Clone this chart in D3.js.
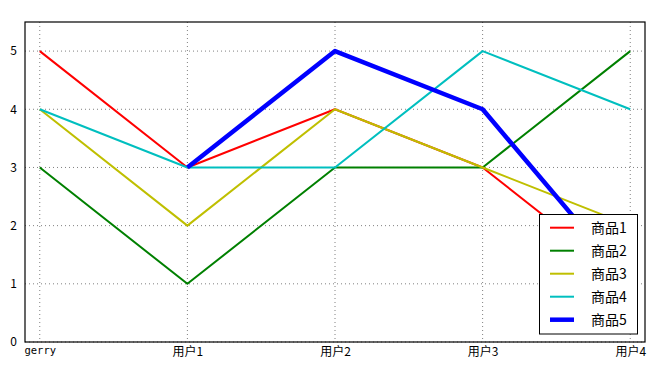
<!DOCTYPE html>
<html><head><meta charset="utf-8">
<script src="https://cdn.jsdelivr.net/npm/d3@7"></script>
<style>body{margin:0;background:#fff}svg{display:block}</style>
</head><body>
<svg id="c" width="667" height="370"></svg>
<script>
const categories = ["gerry","用户1","用户2","用户3","用户4"];
const seriesNames = ["商品1","商品2","商品3","商品4","商品5"];
const s1 = [5,3,4,3,1];
const s2 = [3,1,3,3,5];
const s3 = [4,2,4,3,2];
const s4 = [4,3,3,5,4];
const s5 = [null,3,5,4,1];
const yTicks = [0,1,2,3,4,5];
const colors = ["#ff0000","#008000","#bfbf00","#00bfbf","#0000ff"];
const widths = [2,2,2,2,4.5];
const seriesVals = [s1,s2,s3,s4,s5];

const svg = d3.select("#c");
const L=25,R=645,T=22,B=342;
const x = d3.scaleLinear().domain([-0.1,4.1]).range([L,R]);
const y = d3.scaleLinear().domain([0,5.5]).range([B,T]);
const font = "'Noto Sans CJK SC', sans-serif";

// grid
const g = svg.append("g");
categories.forEach((c,i)=>{
  g.append("line").attr("x1",x(i)).attr("x2",x(i)).attr("y1",T).attr("y2",B)
   .attr("stroke","#808080").attr("stroke-width",1).attr("stroke-dasharray","1,3");
});
yTicks.forEach(v=>{
  g.append("line").attr("x1",L).attr("x2",R).attr("y1",y(v)).attr("y2",y(v))
   .attr("stroke","#808080").attr("stroke-width",1).attr("stroke-dasharray","1,3");
});

// axes
const xAxis = d3.axisBottom(x).tickValues(d3.range(categories.length)).tickFormat(i=>categories[i]).tickSize(0).tickPadding(5);
const yAxis = d3.axisLeft(y).tickValues(yTicks).tickFormat(d3.format("d")).tickSize(0).tickPadding(8);
const gx = svg.append("g").attr("transform",`translate(0,${B})`).call(xAxis);
const gy = svg.append("g").attr("transform",`translate(${L},0)`).call(yAxis);
[gx,gy].forEach(a=>{a.select(".domain").remove();a.selectAll("text").attr("font-family",font).attr("font-size",12).attr("fill","#000");});
gx.selectAll("text").filter(i=>i===0).attr("font-family","'DejaVu Sans Mono', monospace").attr("font-size",10.5);

// lines
svg.append("clipPath").attr("id","clp").append("rect").attr("x",L).attr("y",T).attr("width",R-L).attr("height",B-T);
const line = d3.line().defined(d=>d!=null).x((d,i)=>x(i)).y(d=>y(d));
seriesVals.forEach((vals,k)=>{
  svg.append("path").datum(vals).attr("d",line).attr("fill","none")
    .attr("stroke",colors[k]).attr("stroke-width",widths[k]).attr("stroke-linejoin","round")
    .attr("clip-path","url(#clp)");
});

// frame
svg.append("rect").attr("x",L).attr("y",T).attr("width",R-L).attr("height",B-T)
  .attr("fill","none").attr("stroke","#000").attr("stroke-width",1.2);

// legend
const lg = svg.append("g");
lg.append("rect").attr("x",539.5).attr("y",214.5).attr("width",98).attr("height",119.5)
  .attr("fill","#fff").attr("stroke","#000").attr("stroke-width",1);
seriesNames.forEach((n,k)=>{
  const yy = 227.7 + k*23;
  lg.append("line").attr("x1",550).attr("x2",574).attr("y1",yy).attr("y2",yy)
    .attr("stroke",colors[k]).attr("stroke-width",widths[k]);
  lg.append("text").attr("x",591).attr("y",yy).attr("dy","0.36em")
    .attr("font-family",font).attr("font-size",14).text(n);
});
</script>
</body></html>
